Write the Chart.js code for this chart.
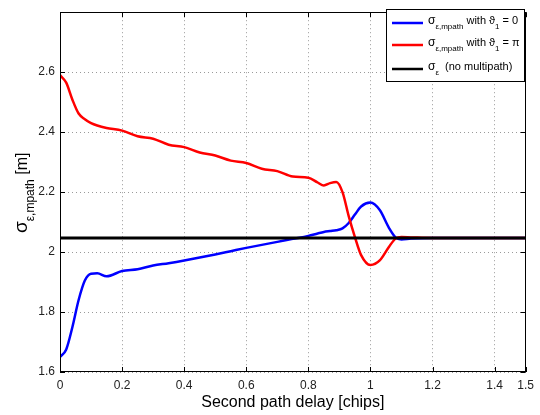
<!DOCTYPE html>
<html>
<head>
<meta charset="utf-8">
<script src="https://cdn.jsdelivr.net/npm/chart.js@4"></script>
<style>
  html, body { margin: 0; padding: 0; background: #fff; }
  #wrap { width: 540px; height: 415px; position: relative; }
</style>
</head>
<body>
<div id="wrap"><canvas id="chart"></canvas></div>
<script>
// second path delay [chips]
const delay = [0, 0.02, 0.04, 0.06, 0.08, 0.1, 0.12, 0.15, 0.2, 0.25, 0.3, 0.35, 0.4, 0.45, 0.5,
  0.55, 0.6, 0.65, 0.7, 0.75, 0.8, 0.83, 0.85, 0.87, 0.89, 0.91, 0.93, 0.95, 0.97, 1.0,
  1.03, 1.06, 1.08, 1.1, 1.13, 1.2, 1.5];

// sigma with theta1 = 0
const sigmaZero = [1.65, 1.675, 1.75, 1.84, 1.905, 1.928, 1.929, 1.919, 1.937, 1.943, 1.955, 1.963, 1.972, 1.982, 1.992,
  2.003, 2.014, 2.024, 2.034, 2.044, 2.054, 2.062, 2.067, 2.07, 2.073, 2.079, 2.097, 2.125, 2.152, 2.165,
  2.14, 2.08, 2.05, 2.042, 2.045, 2.047, 2.047];

// sigma with theta1 = pi
const sigmaPi = [2.59, 2.565, 2.508, 2.462, 2.443, 2.43, 2.422, 2.414, 2.405, 2.386, 2.378, 2.358, 2.35, 2.332, 2.322,
  2.305, 2.297, 2.278, 2.27, 2.252, 2.248, 2.232, 2.222, 2.23, 2.234, 2.2, 2.12, 2.05, 1.99, 1.957,
  1.972, 2.018, 2.044, 2.05, 2.049, 2.047, 2.047];

// no multipath reference
const noMpathX = [0, 1.5];
const noMpath = [2.047, 2.047];

const xTicks = [0, 0.2, 0.4, 0.6, 0.8, 1, 1.2, 1.4, 1.5];
const yTicks = [1.6, 1.8, 2, 2.2, 2.4, 2.6, 2.8];

const FONT = '"Liberation Sans", Arial, Helvetica, sans-serif';

function pts(xs, ys) {
  return xs.map((x, i) => ({ x: x, y: ys[i] }));
}

// draws a run of [text, size, dy] pieces from (x, y), returns end x
function drawRuns(ctx, runs, x, y) {
  runs.forEach(r => {
    ctx.font = r[1] + 'px ' + FONT;
    ctx.fillText(r[0], x, y + (r[2] || 0));
    x += ctx.measureText(r[0]).width;
  });
  return x;
}

const framePlugin = {
  id: 'frame',
  afterDraw(chart) {
    const ctx = chart.ctx;
    const a = chart.chartArea;
    const xs = chart.scales.x;
    const ys = chart.scales.y;
    ctx.save();
    ctx.strokeStyle = '#000';
    ctx.lineWidth = 1;
    ctx.strokeRect(Math.round(a.left) + 0.5, Math.round(a.top) + 0.5,
      Math.round(a.right - a.left) - 1, Math.round(a.bottom - a.top) - 1);

    // inward tick marks
    ctx.beginPath();
    xTicks.forEach(v => {
      const px = Math.round(xs.getPixelForValue(v)) + 0.5;
      ctx.moveTo(px, a.bottom); ctx.lineTo(px, a.bottom - 5);
      ctx.moveTo(px, a.top); ctx.lineTo(px, a.top + 5);
    });
    yTicks.forEach(v => {
      const py = Math.round(ys.getPixelForValue(v)) + 0.5;
      ctx.moveTo(a.left, py); ctx.lineTo(a.left + 5, py);
      ctx.moveTo(a.right, py); ctx.lineTo(a.right - 5, py);
    });
    ctx.stroke();

    // axis titles
    ctx.fillStyle = '#000';
    ctx.textBaseline = 'alphabetic';
    ctx.textAlign = 'left';
    ctx.font = '16px ' + FONT;
    const xt = 'Second path delay [chips]';
    const w = ctx.measureText(xt).width;
    ctx.fillText(xt, (a.left + a.right) / 2 - w / 2, 407);

    ctx.save();
    ctx.translate(27, 233);
    ctx.rotate(-Math.PI / 2);
    drawRuns(ctx, [['σ', 19, 0], ['ε,mpath', 12, 7], [' [m]', 16, 0]], 0, 0);
    ctx.restore();

    // legend box
    const bx = 386, by = 9, bw = 138, bh = 72;
    ctx.fillStyle = '#fff';
    ctx.fillRect(bx, by, bw, bh);
    ctx.strokeStyle = '#000';
    ctx.strokeRect(bx + 0.5, by + 0.5, bw, bh);
    const items = [
      ['#0000ff', 23, [['σ', 12, 0], ['ε,mpath', 8, 5], [' with ϑ', 11, 0], ['1', 8, 5], [' = 0', 11, 0]]],
      ['#ff0000', 45, [['σ', 12, 0], ['ε,mpath', 8, 5], [' with ϑ', 11, 0], ['1', 8, 5], [' = π', 11, 0]]],
      ['#000000', 69, [['σ', 12, 0], ['ε', 8, 5], ['  (no multipath)', 11, 0]]]
    ];
    items.forEach(it => {
      ctx.strokeStyle = it[0];
      ctx.lineWidth = 2.5;
      ctx.beginPath();
      ctx.moveTo(392, it[1]);
      ctx.lineTo(423, it[1]);
      ctx.stroke();
      ctx.fillStyle = '#000';
      drawRuns(ctx, it[2], 428, it[1] + 1);
    });
    ctx.restore();
  }
};

new Chart(document.getElementById('chart'), {
  type: 'line',
  data: {
    datasets: [
      {
        label: 'no multipath',
        data: pts(noMpathX, noMpath),
        borderColor: '#000000',
        borderWidth: 3,
        order: 0
      },
      {
        label: 'theta1 = pi',
        data: pts(delay, sigmaPi),
        borderColor: '#ff0000',
        borderWidth: 2.5,
        cubicInterpolationMode: 'monotone',
        order: 1
      },
      {
        label: 'theta1 = 0',
        data: pts(delay, sigmaZero),
        borderColor: '#0000ff',
        borderWidth: 2.5,
        cubicInterpolationMode: 'monotone',
        order: 2
      }
    ]
  },
  options: {
    responsive: true,
    maintainAspectRatio: false,
    animation: false,
    events: [],
    elements: { point: { radius: 0 } },
    layout: { padding: { left: 0, right: 12, top: 3, bottom: 0 } },
    plugins: {
      legend: { display: false },
      tooltip: { enabled: false }
    },
    scales: {
      x: {
        type: 'linear',
        min: 0,
        max: 1.5,
        afterBuildTicks: s => { s.ticks = xTicks.map(v => ({ value: v })); },
        afterFit: s => { s.height = 43; },
        grid: { color: '#9a9a9a', lineWidth: 1, drawTicks: false },
        border: { display: false, dash: [1, 3] },
        ticks: {
          padding: 6,
          maxRotation: 0,
          autoSkip: false,
          color: '#222',
          font: { family: FONT, size: 12 },
          callback: v => String(v)
        }
      },
      y: {
        type: 'linear',
        min: 1.6,
        max: 2.8,
        afterBuildTicks: s => { s.ticks = yTicks.map(v => ({ value: v })); },
        afterFit: s => { s.width = 60; },
        grid: { color: '#9a9a9a', lineWidth: 1, drawTicks: false },
        border: { display: false, dash: [1, 3] },
        ticks: {
          padding: 5,
          autoSkip: false,
          color: '#222',
          font: { family: FONT, size: 12 },
          callback: v => (v >= 2.79 ? '' : String(v))
        }
      }
    }
  },
  plugins: [framePlugin]
});
</script>
</body>
</html>
